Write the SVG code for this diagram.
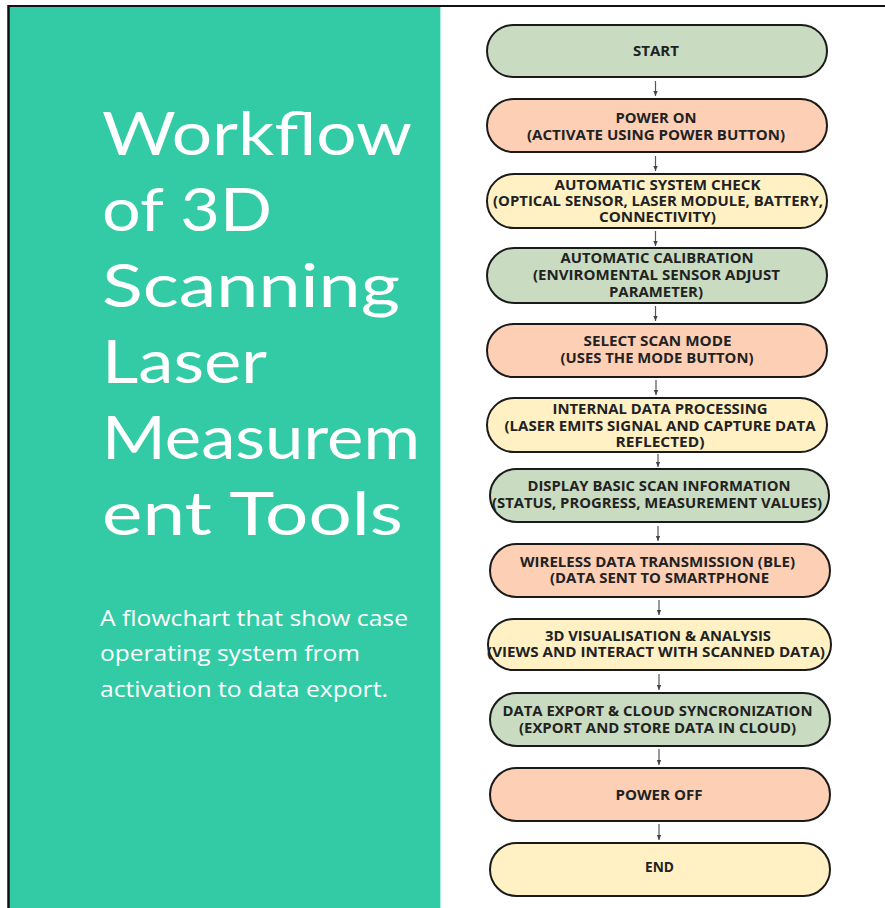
<svg xmlns="http://www.w3.org/2000/svg" width="885" height="908" viewBox="0 0 885 908">
<defs>
<marker id="ah" viewBox="0 0 6 6" refX="5" refY="3" markerWidth="6" markerHeight="6" markerUnits="userSpaceOnUse" orient="auto">
<path d="M0,0.8 L5,3 L0,5.2 Z" fill="#444"/>
</marker>
</defs>
<style>
.node rect{stroke:#1a1a1a;stroke-width:2}
.g{fill:#c9dbc0}.p{fill:#fdcfb5}.y{fill:#fff1c4}
.node text{font-family:"Open Sans","Liberation Sans",sans-serif;font-weight:700;font-size:15px;fill:#222;text-anchor:middle}
.title{font-family:Lato,"Liberation Sans",sans-serif;font-weight:400;font-size:60px;fill:#fff}
.sub{font-family:"Open Sans","Liberation Sans",sans-serif;font-size:21px;fill:#fff}
#connectors line{stroke:#555;stroke-width:1.2;marker-end:url(#ah)}
</style>
<rect x="0" y="0" width="885" height="908" fill="#fff"/>
<g id="panel">
<rect x="9" y="7" width="431" height="901" fill="#32cba6"/>
<line x1="440.5" y1="7" x2="440.5" y2="908" stroke="#aeeedd" stroke-width="1"/>
<line x1="8" y1="6" x2="885" y2="6" stroke="#111" stroke-width="2.2"/>
<line x1="8.5" y1="5" x2="8.5" y2="908" stroke="#111" stroke-width="2.5"/>
<text class="title" x="102" y="155" textLength="310" lengthAdjust="spacingAndGlyphs">Workflow</text>
<text class="title" x="102" y="231" textLength="170" lengthAdjust="spacingAndGlyphs">of 3D</text>
<text class="title" x="102" y="307" textLength="298" lengthAdjust="spacingAndGlyphs">Scanning</text>
<text class="title" x="102" y="383" textLength="165" lengthAdjust="spacingAndGlyphs">Laser</text>
<text class="title" x="102" y="459" textLength="318" lengthAdjust="spacingAndGlyphs">Measurem</text>
<text class="title" x="102" y="535" textLength="301" lengthAdjust="spacingAndGlyphs">ent Tools</text>
<text class="sub" x="100" y="626" textLength="308" lengthAdjust="spacingAndGlyphs">A flowchart that show case</text>
<text class="sub" x="100" y="661" textLength="260" lengthAdjust="spacingAndGlyphs">operating system from</text>
<text class="sub" x="100" y="697" textLength="288" lengthAdjust="spacingAndGlyphs">activation to data export.</text>
</g>
<g id="connectors">
<line x1="655.5" y1="81" x2="655.5" y2="96"/>
<line x1="655.5" y1="156" x2="655.5" y2="171"/>
<line x1="655.5" y1="231" x2="655.5" y2="246"/>
<line x1="655.5" y1="306" x2="655.5" y2="321"/>
<line x1="656" y1="380" x2="656" y2="395"/>
<line x1="658" y1="454" x2="658" y2="467"/>
<line x1="658" y1="526" x2="658" y2="541"/>
<line x1="659" y1="600" x2="659" y2="615"/>
<line x1="659" y1="674" x2="659" y2="690"/>
<line x1="659" y1="749" x2="659" y2="765"/>
<line x1="659" y1="824" x2="659" y2="840"/>
</g>
<g id="n1" class="node"><rect class="g" x="487" y="25" width="340" height="52" rx="26"/><text x="656" y="56" textLength="46" lengthAdjust="spacingAndGlyphs">START</text></g>
<g id="n2" class="node"><rect class="p" x="487" y="99" width="340" height="53" rx="26.5"/><text x="656" y="123" textLength="81" lengthAdjust="spacingAndGlyphs">POWER ON</text><text x="656" y="140" textLength="258" lengthAdjust="spacingAndGlyphs">(ACTIVATE USING POWER BUTTON)</text></g>
<g id="n3" class="node"><rect class="y" x="487" y="174" width="340" height="54" rx="27"/><text x="657.5" y="190" textLength="206" lengthAdjust="spacingAndGlyphs">AUTOMATIC SYSTEM CHECK</text><text x="658" y="206" textLength="330" lengthAdjust="spacingAndGlyphs">(OPTICAL SENSOR, LASER MODULE, BATTERY,</text><text x="657.5" y="222" textLength="117" lengthAdjust="spacingAndGlyphs">CONNECTIVITY)</text></g>
<g id="n4" class="node"><rect class="g" x="487" y="248" width="340" height="55" rx="27.5"/><text x="657" y="263" textLength="193" lengthAdjust="spacingAndGlyphs">AUTOMATIC CALIBRATION</text><text x="656.5" y="280" textLength="247" lengthAdjust="spacingAndGlyphs">(ENVIROMENTAL SENSOR ADJUST</text><text x="656" y="297" textLength="94" lengthAdjust="spacingAndGlyphs">PARAMETER)</text></g>
<g id="n5" class="node"><rect class="p" x="487" y="324" width="340" height="53" rx="26.5"/><text x="657.5" y="346" textLength="148" lengthAdjust="spacingAndGlyphs">SELECT SCAN MODE</text><text x="657" y="363" textLength="193" lengthAdjust="spacingAndGlyphs">(USES THE MODE BUTTON)</text></g>
<g id="n6" class="node"><rect class="y" x="487" y="398" width="340" height="54" rx="27"/><text x="660" y="414" textLength="215" lengthAdjust="spacingAndGlyphs">INTERNAL DATA PROCESSING</text><text x="660" y="431" textLength="311" lengthAdjust="spacingAndGlyphs">(LASER EMITS SIGNAL AND CAPTURE DATA</text><text x="660" y="447" textLength="89" lengthAdjust="spacingAndGlyphs">REFLECTED)</text></g>
<g id="n7" class="node"><rect class="g" x="490" y="469" width="339" height="53" rx="26.5"/><text x="659" y="491" textLength="263" lengthAdjust="spacingAndGlyphs">DISPLAY BASIC SCAN INFORMATION</text><text x="657" y="508" textLength="330" lengthAdjust="spacingAndGlyphs">(STATUS, PROGRESS, MEASUREMENT VALUES)</text></g>
<g id="n8" class="node"><rect class="p" x="490" y="544" width="340" height="53" rx="26.5"/><text x="657.5" y="567" textLength="275" lengthAdjust="spacingAndGlyphs">WIRELESS DATA TRANSMISSION (BLE)</text><text x="659.5" y="583" textLength="219" lengthAdjust="spacingAndGlyphs">(DATA SENT TO SMARTPHONE</text></g>
<g id="n9" class="node"><rect class="y" x="488" y="619" width="343" height="51" rx="25.5"/><text x="658" y="641" textLength="226" lengthAdjust="spacingAndGlyphs">3D VISUALISATION &amp; ANALYSIS</text><text x="656" y="657" textLength="338" lengthAdjust="spacingAndGlyphs">(VIEWS AND INTERACT WITH SCANNED DATA)</text></g>
<g id="n10" class="node"><rect class="g" x="490" y="693" width="340" height="53" rx="26.5"/><text x="657.5" y="716" textLength="310" lengthAdjust="spacingAndGlyphs">DATA EXPORT &amp; CLOUD SYNCRONIZATION</text><text x="657.5" y="733" textLength="277" lengthAdjust="spacingAndGlyphs">(EXPORT AND STORE DATA IN CLOUD)</text></g>
<g id="n11" class="node"><rect class="p" x="490" y="768" width="340" height="53" rx="26.5"/><text x="659" y="800" textLength="87" lengthAdjust="spacingAndGlyphs">POWER OFF</text></g>
<g id="n12" class="node"><rect class="y" x="490" y="843" width="340" height="53" rx="26.5"/><text x="659.5" y="872" textLength="29" lengthAdjust="spacingAndGlyphs">END</text></g>
</svg>
